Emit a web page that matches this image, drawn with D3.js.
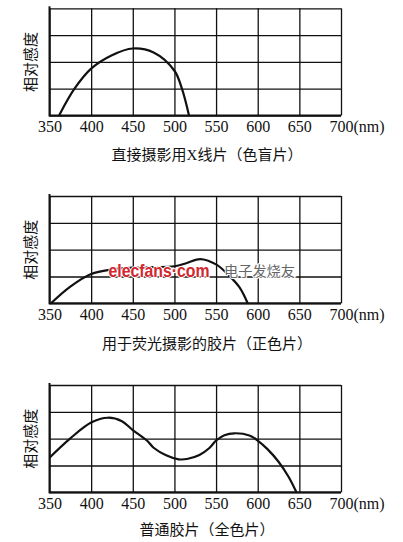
<!DOCTYPE html>
<html>
<head>
<meta charset="utf-8">
<script src="https://cdn.jsdelivr.net/npm/d3@7"></script>
<style>
  body { margin: 0; background: #fff; }
  svg { display: block; }
</style>
</head>
<body>
<svg id="chart" width="403" height="542"></svg>
<script>
// wavelength ticks (nm) and relative sensitivity rows
const wavelengthTicks = [350, 400, 450, 500, 550, 600, 650, 700];
const sensTicks = [0, 1, 2, 3, 4];
const yLabel = "相对感度";
const titles = [
  "直接摄影用X线片（色盲片）",
  "用于荧光摄影的胶片（正色片）",
  "普通胶片（全色片）"
];

// [wavelength, relative sensitivity]
const blindFilm = [
  [361.5, 0], [380, 1.0], [400, 1.75], [425, 2.25], [450, 2.5],
  [475, 2.35], [500, 1.67], [509, 1.0], [517.5, 0]
];
const orthoFilm = [
  [351.8, 0], [375, 0.62], [400, 1.09], [425, 1.26], [450, 1.33],
  [475, 1.35], [500, 1.38], [515, 1.5], [531, 1.65], [550, 1.45],
  [565, 1.05], [578, 0.6], [588, 0]
];
const panFilm = [
  [350, 1.29], [375, 2.01], [400, 2.6], [420, 2.78], [437, 2.65],
  [450, 2.32], [467, 1.93], [475, 1.66], [490, 1.38], [505, 1.23],
  [515, 1.24], [530, 1.39], [542, 1.65], [550, 1.93], [560, 2.13],
  [572, 2.2], [590, 2.12], [600, 1.93], [612, 1.6], [625, 1.14],
  [637, 0.58], [646.5, 0]
];
const seriesList = [blindFilm, orthoFilm, panFilm];

const svg = d3.select("#chart");
const x = d3.scaleLinear().domain([350, 700]).range([49.5, 341]);

const panels = [
  { top: 8.3, bottom: 115.5, titleY: 160 },
  { top: 196, bottom: 303.3, titleY: 348.5 },
  { top: 385, bottom: 492.3, titleY: 534.5 }
];

panels.forEach((p, i) => {
  const g = svg.append("g");
  const y = d3.scaleLinear().domain([0, 4]).range([p.bottom, p.top]);
  const h = p.bottom - p.top;

  // vertical grid + tick labels
  const xAxis = d3.axisBottom(x)
    .tickValues(wavelengthTicks)
    .tickSize(-h)
    .tickPadding(5.5)
    .tickFormat((d) => d);
  const xg = g.append("g")
    .attr("transform", "translate(0," + p.bottom + ")")
    .call(xAxis);
  xg.select(".domain").remove();
  xg.selectAll("line").attr("stroke", "#111").attr("stroke-width", 1.3);
  xg.selectAll("text")
    .attr("fill", "#111")
    .style("font-family", "'Liberation Serif', serif")
    .style("font-size", "16px");
  // last label carries the unit
  xg.selectAll(".tick").filter((d) => d === 700).select("text").each(function () {
    const t = d3.select(this);
    const w = this.getComputedTextLength();
    t.attr("text-anchor", "start").attr("x", -w / 2);
    t.append("tspan").text("(nm)");
  });

  // horizontal grid
  const yAxis = d3.axisLeft(y).tickValues(sensTicks).tickSize(-(x(700) - x(350))).tickFormat("");
  const yg = g.append("g")
    .attr("transform", "translate(" + x(350) + ",0)")
    .call(yAxis);
  yg.select(".domain").remove();
  yg.selectAll("line").attr("stroke", "#111").attr("stroke-width", 1.3);

  // thicker left axis and bottom edge
  g.append("line")
    .attr("x1", x(350)).attr("x2", x(350))
    .attr("y1", p.top - 2).attr("y2", p.bottom + 1)
    .attr("stroke", "#111").attr("stroke-width", 2);
  g.append("line")
    .attr("x1", x(350)).attr("x2", x(700))
    .attr("y1", p.bottom).attr("y2", p.bottom)
    .attr("stroke", "#111").attr("stroke-width", 2);

  // curve
  const line = d3.line()
    .x((d) => x(d[0]))
    .y((d) => y(d[1]))
    .curve(d3.curveCatmullRom.alpha(0.5));
  g.append("path")
    .datum(seriesList[i])
    .attr("d", line)
    .attr("fill", "none")
    .attr("stroke", "#111")
    .attr("stroke-width", 2.2);

  // y label
  g.append("text")
    .attr("transform", "translate(36," + (p.top + p.bottom) / 2 + ") rotate(-90)")
    .attr("text-anchor", "middle")
    .attr("fill", "#111")
    .style("font-family", "'Noto Sans CJK SC', sans-serif")
    .style("font-size", "15px")
    .text(yLabel);

  // title
  g.append("text")
    .attr("x", 207)
    .attr("y", p.titleY)
    .attr("text-anchor", "middle")
    .attr("fill", "#111")
    .style("font-family", "'Liberation Serif', 'Noto Sans CJK SC', serif")
    .style("font-size", "15px")
    .text(titles[i]);

  if (i === 1) {
    // watermark
    g.append("text")
      .attr("x", 108.5)
      .attr("y", 276.5)
      .attr("textLength", 101)
      .attr("lengthAdjust", "spacingAndGlyphs")
      .attr("fill", "#d4262e")
      .attr("stroke", "#fff")
      .attr("stroke-width", 2)
      .attr("paint-order", "stroke")
      .style("font-family", "'Liberation Sans', sans-serif")
      .style("font-weight", "bold")
      .style("font-size", "19px")
      .text("elecfans·com");
    g.append("text")
      .attr("x", 224)
      .attr("y", 276)
      .attr("textLength", 71)
      .attr("lengthAdjust", "spacingAndGlyphs")
      .attr("fill", "#666")
      .attr("stroke", "#fff")
      .attr("stroke-width", 2)
      .attr("paint-order", "stroke")
      .style("font-family", "'Noto Sans CJK SC', sans-serif")
      .style("font-size", "14px")
      .text("电子发烧友");
  }
});
</script>
</body>
</html>
